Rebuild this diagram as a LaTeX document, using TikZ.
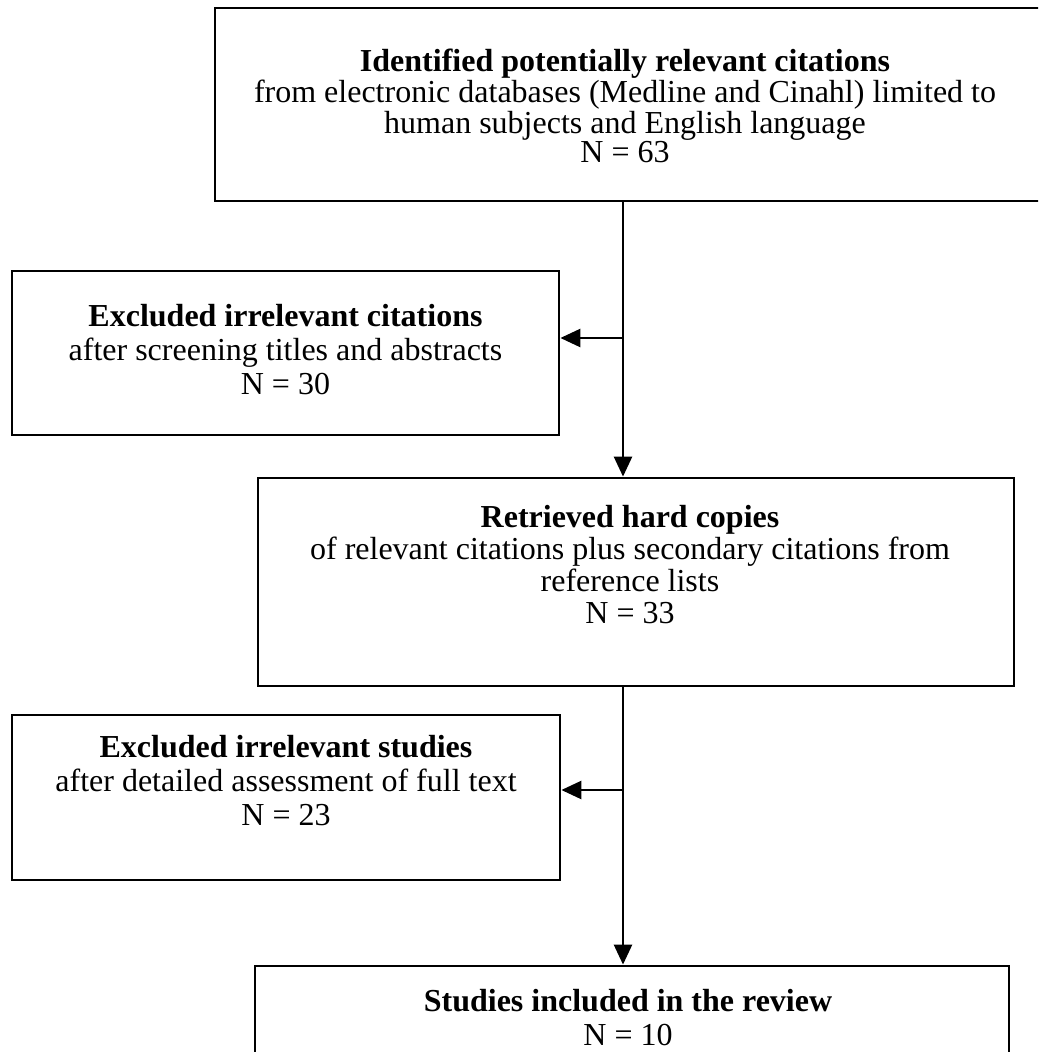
\documentclass[tikz,border=0pt]{standalone}
\usepackage{fontspec}
\setmainfont{Liberation Serif}
\usetikzlibrary{arrows.meta,positioning,calc}

\begin{document}
\begin{tikzpicture}[x=0.5pt, y=-0.5pt,
    box/.style={draw, line width=1.4pt, rectangle, inner sep=0pt},
    txt/.style={align=center, inner sep=0pt, font=\fontsize{16}{17}\selectfont},
    link/.style={line width=1.3pt, -{Triangle[length=10pt,width=9pt]}}]
   \useasboundingbox (0,0) rectangle (1038,1052);
   \clip (0,0) rectangle (1038,1052);
   % boxes
   \node[box, minimum width=415pt, minimum height=96.5pt] (b1) at (630,104.5) {};
   \node[box, minimum width=273.5pt, minimum height=82pt] (b2) at (285.5,353) {};
   \node[box, minimum width=378pt, minimum height=104pt] (b3) at (636,582) {};
   \node[box, minimum width=274pt, minimum height=82.5pt] (b4) at (286,797.5) {};
   \node[box, minimum width=377pt, minimum height=52pt] (b5) at (632,1018) {};
   % texts
   \node[txt, font=\fontsize{16}{14.5}\selectfont] (t1) at (625,106)
     {\textbf{Identified potentially relevant citations}\\
      from electronic databases (Medline and Cinahl) limited to\\
      human subjects and English language\\ N = 63};
   \node[txt] (t2) at (285.5,350)
     {\textbf{Excluded irrelevant citations}\\
      after screening titles and abstracts\\ N = 30};
   \node[txt, font=\fontsize{16}{16}\selectfont] (t3) at (630,565)
     {\textbf{Retrieved hard copies}\\
      of relevant citations plus secondary citations from\\
      reference lists\\ N = 33};
   \node[txt] (t4) at (286,781)
     {\textbf{Excluded irrelevant studies}\\
      after detailed assessment of full text\\ N = 23};
   \node[txt] (t5) at (628,1018)
     {\textbf{Studies included in the review}\\ N = 10};
   % connectors
   \coordinate (j1) at (623,338);
   \coordinate (j2) at (623,790);
   \draw[link] (j1 |- b1.south) -- (j1 |- b3.north);
   \draw[link] (j1) -- (b2.east |- j1);
   \draw[link] (j2 |- b3.south) -- (j2 |- b5.north);
   \draw[link] (j2) -- (b4.east |- j2);
\end{tikzpicture}
\end{document}
